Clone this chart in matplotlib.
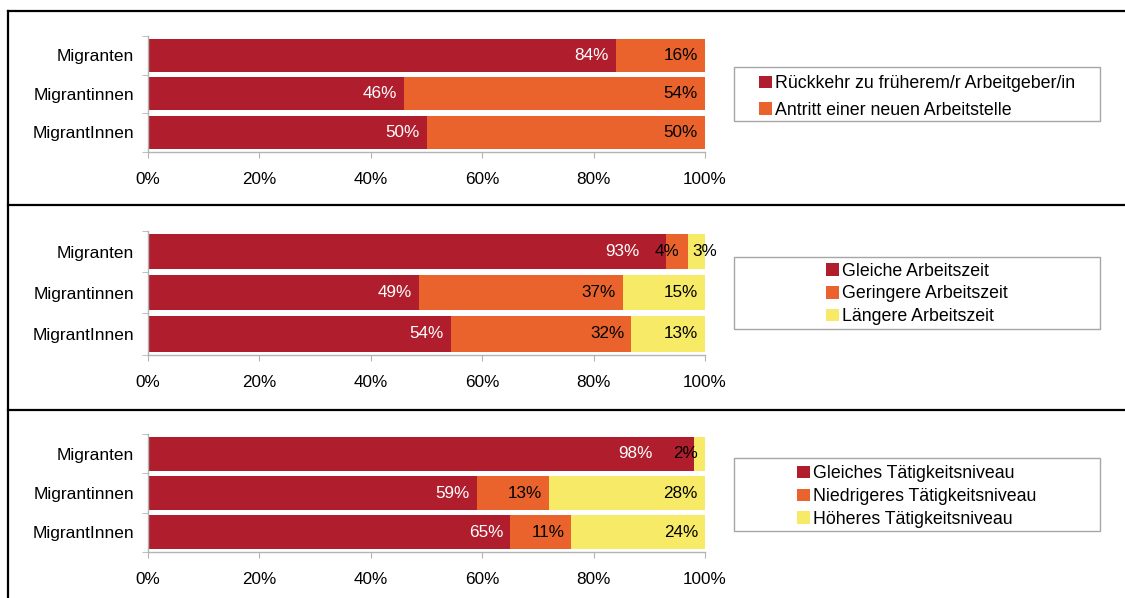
import numpy as np
import matplotlib.pyplot as plt
from matplotlib.patches import Rectangle
from matplotlib.lines import Line2D

plt.rcParams['font.family'] = ['Liberation Sans', 'DejaVu Sans']

groups = ['Migranten', 'Migrantinnen', 'MigrantInnen']

# Block 1: Art der Rückkehr
p1_names = ['Rückkehr zu früherem/r Arbeitgeber/in', 'Antritt einer neuen Arbeitstelle']
p1_prev = [84, 46, 50]
p1_new = [16, 54, 50]

# Block 2: Arbeitszeit
p2_names = ['Gleiche Arbeitszeit', 'Geringere Arbeitszeit', 'Längere Arbeitszeit']
p2_same = [93, 48.6, 54.4]
p2_less = [4, 36.6, 32.4]
p2_more = [3, 14.8, 13.2]

# Block 3: Tätigkeitsniveau
p3_names = ['Gleiches Tätigkeitsniveau', 'Niedrigeres Tätigkeitsniveau', 'Höheres Tätigkeitsniveau']
p3_same = [98, 59, 65]
p3_lower = [0, 13, 11]
p3_higher = [2, 28, 24]

colors = ['#B01E2E', '#EA632C', '#F7EA66']
label_colors = ['white', 'black', 'black']

W, H = 1125, 598
fig = plt.figure(figsize=(W / 100, H / 100), dpi=100)


def fx(px):
    return px / W


def fy(py):
    return 1 - py / H


# Pixel boxes (left, top, right, bottom)
axes_boxes = [(148, 36, 705, 151.5), (148, 231, 705, 354.5), (148, 434, 705, 552)]
legend_boxes = [(734, 67, 1100, 121), (734, 257, 1100, 329), (734, 458, 1100, 531)]
legend_spacing = [0.55, 0.33, 0.33]
legend_shift = [3, 1, 2]  # px downward

# label nudges in pixels for the right edge of a value label (default -7)
nudge = {(1, 0, 0): -27, (1, 0, 1): -9, (1, 0, 2): 12, (2, 0, 0): -41}

panels = [
    (p1_names, [p1_prev, p1_new]),
    (p2_names, [p2_same, p2_less, p2_more]),
    (p3_names, [p3_same, p3_lower, p3_higher]),
]

y = np.arange(len(groups))
for k, (names, series) in enumerate(panels):
    l, t, r, b = axes_boxes[k]
    ax = fig.add_axes([fx(l), fy(b), fx(r) - fx(l), fy(t) - fy(b)])
    left = np.zeros(len(groups))
    handles = []
    for j, vals in enumerate(series):
        vals = np.array(vals, dtype=float)
        bars = ax.barh(y, vals, left=left, height=0.86, color=colors[j], label=names[j])
        handles.append(bars)
        for i in range(len(groups)):
            if vals[i] <= 0:
                continue
            off = nudge.get((k, i, j), -7)
            ax.annotate('%.0f%%' % vals[i], xy=(left[i] + vals[i], y[i]),
                        xytext=(off * 0.72, 0), textcoords='offset points',
                        ha='right', va='center', fontsize=12.3,
                        color=label_colors[j], annotation_clip=False)
        left += vals

    ax.set_xlim(0, 100)
    ax.set_ylim(len(groups) - 0.5, -0.5)
    ax.set_xticks(np.arange(0, 101, 20))
    ax.set_xticklabels(['%d%%' % v for v in range(0, 101, 20)], fontsize=12.3)
    ax.set_yticks(y)
    ax.set_yticklabels(groups, fontsize=12.5)
    ax.set_yticks(np.arange(-0.5, len(groups), 1), minor=True)
    ax.tick_params(axis='y', which='major', length=0, pad=10)
    ax.tick_params(axis='y', which='minor', length=4, color='#b3b3b3')
    ax.tick_params(axis='x', length=4, color='#b3b3b3', pad=10.5)
    for s in ['top', 'right']:
        ax.spines[s].set_visible(False)
    for s in ['left', 'bottom']:
        ax.spines[s].set_color('#b3b3b3')
        ax.spines[s].set_linewidth(1)

    # legend frame + centred content
    l, t, r, b = legend_boxes[k]
    fig.add_artist(Rectangle((fx(l), fy(b)), fx(r) - fx(l), fy(t) - fy(b),
                             transform=fig.transFigure, fill=False,
                             edgecolor='#a6a6a6', linewidth=1))
    cy = fy((t + b) / 2 + legend_shift[k])
    fig.legend(handles, names, loc='center',
               bbox_to_anchor=((fx(l) + fx(r)) / 2, cy),
               bbox_transform=fig.transFigure, frameon=False, fontsize=12.8,
               handlelength=0.72, handleheight=0.7, handletextpad=0.2,
               labelspacing=legend_spacing[k], borderpad=0, borderaxespad=0)

# outer frame and separators
lw = 1.6
fig.add_artist(Line2D([fx(7.5), 1], [fy(11), fy(11)], color='black', lw=lw))
fig.add_artist(Line2D([fx(7.5), fx(7.5)], [fy(11), 0], color='black', lw=lw))
for sep in [205, 409.5]:
    fig.add_artist(Line2D([fx(7.5), 1], [fy(sep), fy(sep)], color='black', lw=lw))

fig.savefig('out.png', dpi=100)
